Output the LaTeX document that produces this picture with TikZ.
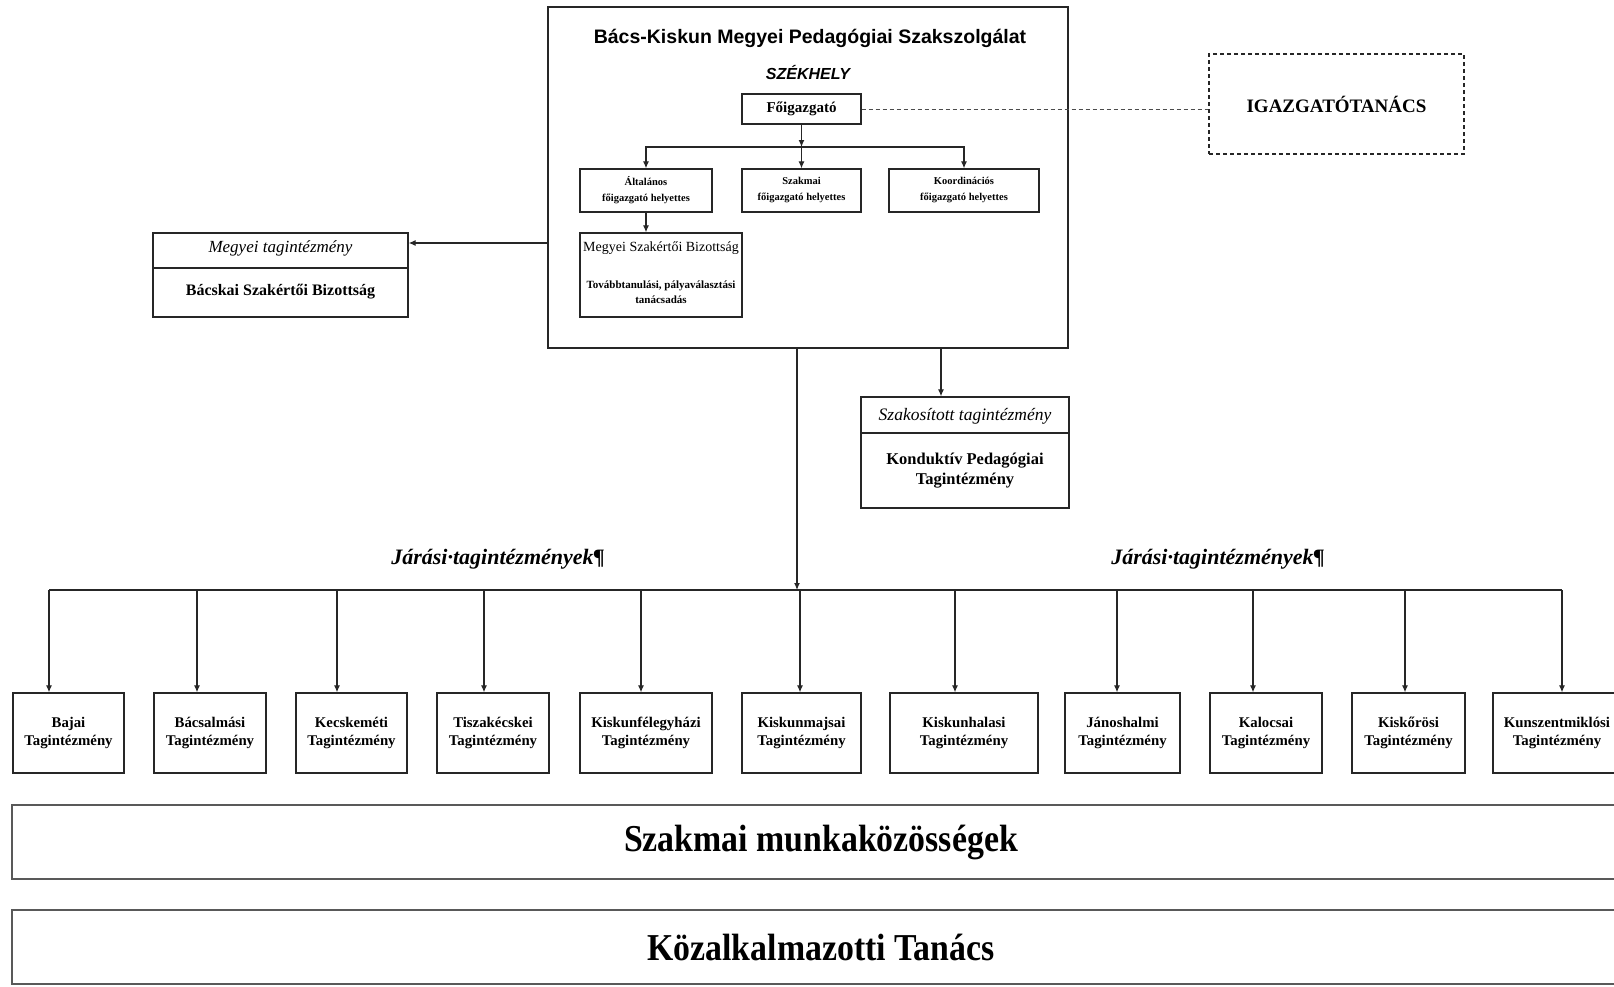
\documentclass[tikz,border=0pt]{standalone}
\usepackage{fontspec}
\setmainfont{Liberation Serif}
\newfontfamily\arialf{Liberation Sans}
\newfontfamily\condf[FakeStretch=0.89]{Liberation Serif}
\usetikzlibrary{arrows.meta}
\begin{document}
\begin{tikzpicture}[x=1pt,y=-1pt,
  box/.style={draw=black!85, line width=1.3pt, inner sep=0pt, align=center},
  arr/.style={draw=black!85, line width=1.2pt, -{Latex[length=7pt,width=6pt]}},
  ln/.style={draw=black!85, line width=1.2pt},
  dl/.style={draw=black!70, line width=0.9pt, dash pattern=on 4pt off 3pt},
  txt/.style={inner sep=0pt, align=center},
  tag/.style={box, minimum width=#1, minimum height=80pt, font=\bfseries\fontsize{14.8}{18}\selectfont},
  fh/.style={box, minimum width=#1, minimum height=43pt, font=\bfseries\fontsize{10.5}{16}\selectfont},
  band/.style={draw=black!65, line width=2pt, inner sep=0pt, minimum width=1618pt, minimum height=74pt, font=\condf\bfseries\fontsize{38}{40}\selectfont},
  jar/.style={txt, font=\bfseries\itshape\fontsize{22}{24}\selectfont}
]
\useasboundingbox (0,0) rectangle (1614,986);
\fill[white] (0,0) rectangle (1614,986);

% main box
\node[box, minimum width=520pt, minimum height=341pt] (main) at (808,177.5) {};
\node[txt, font=\arialf\bfseries\fontsize{19.5}{21}\selectfont] (title) at (810,38) {Bács-Kiskun Megyei Pedagógiai Szakszolgálat};
\node[txt, font=\arialf\bfseries\itshape\fontsize{16}{18}\selectfont] (szh) at (808,73) {SZÉKHELY};
\node[box, minimum width=119pt, minimum height=30pt, font=\bfseries\fontsize{15}{17}\selectfont] (fo) at (801.5,109) {Főigazgató};
\node[fh=132pt] (alt) at (646,190.5) {Általános\\főigazgató helyettes};
\node[fh=119pt] (szak) at (801.5,190.5) {Szakmai\\főigazgató helyettes};
\node[fh=150pt] (koord) at (964,190.5) {Koordinációs\\főigazgató helyettes};
\node[box, minimum width=162pt, minimum height=84pt] (msb) at (661,275) {};
\node[txt, font=\fontsize{14}{16}\selectfont] (msbt) at (661,248) {Megyei Szakértői Bizottság};
\node[txt, font=\bfseries\fontsize{11}{15}\selectfont] (msbs) at (661,292.5) {Továbbtanulási, pályaválasztási\\tanácsadás};

% left box
\node[box, minimum width=255pt, minimum height=84pt] (mt) at (280.5,275) {};
\draw[ln, line width=1.3pt] (mt.west |- 0,268) -- (mt.east |- 0,268);
\node[txt, font=\itshape\fontsize{17}{19}\selectfont] (mti) at (280.5,248) {Megyei tagintézmény};
\node[txt, font=\bfseries\fontsize{16}{18}\selectfont] (mtb) at (280.5,292) {Bácskai Szakértői Bizottság};

% specialised box
\node[box, minimum width=208pt, minimum height=111pt] (szako) at (965,452.5) {};
\draw[ln, line width=1.3pt] (szako.west |- 0,433) -- (szako.east |- 0,433);
\node[txt, font=\itshape\fontsize{17.5}{19}\selectfont] (szakoi) at (965,416) {Szakosított tagintézmény};
\node[txt, font=\bfseries\fontsize{16.5}{20}\selectfont] (szakob) at (965,471) {Konduktív Pedagógiai\\Tagintézmény};

% board
\node[box, dash pattern=on 4pt off 3pt, line width=1.5pt, minimum width=255pt, minimum height=100pt, font=\bfseries\fontsize{19}{21}\selectfont] (igaz) at (1336.5,104) {IGAZGATÓTANÁCS};

% labels
\node[jar] (jl) at (498,559) {Járási·tagintézmények¶};
\node[jar] (jr) at (1218,559) {Járási·tagintézmények¶};

% district boxes
\node[tag=111pt] (bajai) at (68.5,733) {Bajai\\Tagintézmény};
\node[tag=112pt] (bacs) at (210,733) {Bácsalmási\\Tagintézmény};
\node[tag=111pt] (kecs) at (351.5,733) {Kecskeméti\\Tagintézmény};
\node[tag=112pt] (tisza) at (493,733) {Tiszakécskei\\Tagintézmény};
\node[tag=132pt] (kfh) at (646,733) {Kiskunfélegyházi\\Tagintézmény};
\node[tag=119pt] (kmaj) at (801.5,733) {Kiskunmajsai\\Tagintézmény};
\node[tag=148pt] (khal) at (964,733) {Kiskunhalasi\\Tagintézmény};
\node[tag=115pt] (janos) at (1122.5,733) {Jánoshalmi\\Tagintézmény};
\node[tag=112pt] (kalo) at (1266,733) {Kalocsai\\Tagintézmény};
\node[tag=113pt] (kisk) at (1408.5,733) {Kiskőrösi\\Tagintézmény};
\node[tag=128pt] (kunsz) at (1557,733) {Kunszentmiklósi\\Tagintézmény};

% bands
\node[band] (smk) at (821,842) {Szakmai munkaközösségek};
\node[band] (kt) at (821,947) {Közalkalmazotti Tanács};

% connectors in main box
\coordinate (br) at (0,147);
\draw[arr] (fo.south) -- (fo.south |- br);
\draw[arr] (fo.south |- br) -| (alt.north);
\draw[arr] (fo.south |- br) -| (koord.north);
\draw[arr] (fo.south |- br) -- (szak.north);
\draw[arr] (alt.south) -- (alt.south |- msb.north);
\draw[dl] (fo.east) -- (fo.east -| igaz.west);

% to left box
\draw[arr] (main.west |- 0,243) -- (mt.east |- 0,243);
% to specialised box
\draw[arr] (main.south -| 941,0) -- (szako.north -| 941,0);

% trunk and bar
\coordinate (trunk) at (797,590);
\coordinate (barl) at (49,590);
\coordinate (barr) at (1562,590);
\draw[arr] (trunk |- main.south) -- (trunk);
\draw[ln] (barl) -- (barr);
\foreach \n/\x in {bajai/49,bacs/197,kecs/337,tisza/484,kfh/641,kmaj/800,khal/955,janos/1117,kalo/1253,kisk/1405,kunsz/1562}
  \draw[arr] (\x,590) -- (\n.north -| \x,0);
\end{tikzpicture}
\end{document}
